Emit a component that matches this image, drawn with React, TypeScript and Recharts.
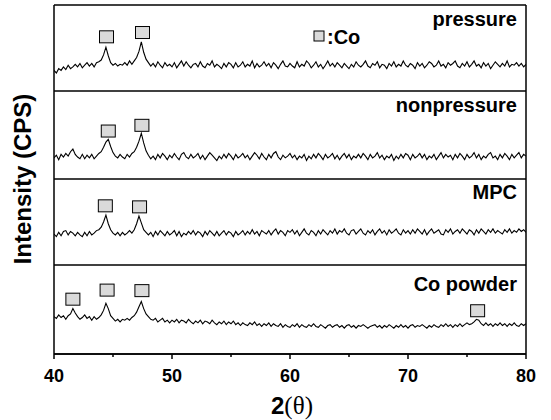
import React from 'react';
import { ComposedChart, Line, XAxis, YAxis, ReferenceDot, ReferenceLine } from 'recharts';

// scan grid: 40-80 deg, 0.2 deg step
const scanStart = 40;
const scanStep = 0.2;
const xTicks = [40, 45, 50, 55, 60, 65, 70, 75, 80];

// counts, local units 0-100 per panel
const pressureCounts = [
  24, 21, 26, 24, 28, 25, 30, 26, 28, 31,
  28, 32, 27, 30, 33, 29, 32, 28, 33, 34,
  36, 42, 51, 41, 33, 30, 32, 29, 31, 30,
  33, 30, 35, 31, 35, 39, 46, 57, 45, 37,
  33, 29, 32, 28, 34, 30, 27, 33, 29, 31,
  28, 33, 27, 31, 35, 29, 34, 30, 27, 31,
  32, 28, 34, 29, 27, 32, 30, 35, 28, 31,
  29, 26, 32, 28, 33, 31, 27, 33, 28, 30,
  34, 28, 31, 29, 35, 27, 32, 28, 30, 34,
  29, 32, 27, 33, 30, 26, 31, 35, 29, 28,
  32, 29, 27, 34, 28, 31, 29, 35, 32, 27,
  30, 34, 28, 31, 26, 30, 35, 29, 32, 28,
  33, 30, 27, 32, 29, 26, 31, 28, 34, 30,
  28, 31, 35, 29, 27, 32, 30, 34, 27, 31,
  30, 26, 32, 29, 34, 28, 31, 29, 35, 30,
  28, 32, 30, 26, 33, 29, 32, 27, 30, 34,
  32, 28, 30, 35, 29, 31, 27, 33, 30, 32,
  35, 29, 27, 32, 29, 34, 28, 31, 35, 29,
  31, 27, 33, 29, 32, 26, 30, 34, 31, 28,
  32, 29, 35, 28, 31, 30, 33, 29, 32, 28, 31,
];

const nonpressureCounts = [
  24, 27, 22, 28, 25, 29, 26, 31, 34, 28,
  25, 23, 28, 23, 27, 24, 28, 23, 26, 29,
  31, 36, 42, 45, 37, 30, 26, 24, 28, 25,
  23, 28, 25, 29, 31, 36, 43, 52, 41, 32,
  27, 23, 26, 22, 28, 24, 29, 26, 22, 27,
  24, 29, 25, 22, 28, 30, 25, 23, 28, 24,
  26, 29, 23, 27, 22, 26, 30, 27, 24, 21,
  26, 23, 28, 24, 29, 26, 22, 28, 24, 26,
  29, 24, 27, 22, 26, 30, 27, 23, 29, 25,
  22, 28, 24, 29, 31, 25, 22, 27, 24, 26,
  29, 24, 27, 22, 26, 24, 28, 21, 26, 23,
  28, 24, 29, 26, 22, 28, 24, 26, 29, 23,
  27, 22, 26, 29, 24, 28, 22, 26, 24, 28,
  24, 29, 26, 22, 28, 24, 26, 30, 24, 27,
  22, 26, 24, 28, 21, 26, 23, 28, 24, 29,
  27, 22, 28, 24, 26, 29, 24, 28, 22, 26,
  24, 28, 22, 26, 30, 24, 28, 25, 27, 22,
  28, 24, 29, 26, 22, 28, 24, 26, 30, 24,
  28, 22, 26, 24, 28, 30, 24, 26, 22, 28,
  24, 29, 26, 22, 28, 24, 27, 30, 24, 28, 26,
];

const mpcCounts = [
  36, 33, 38, 34, 39, 40, 35, 39, 37, 34,
  38, 35, 33, 38, 34, 39, 35, 37, 40, 41,
  44, 50, 58, 48, 41, 37, 35, 38, 34, 38,
  35, 37, 40, 37, 41, 48, 57, 49, 41, 38,
  35, 38, 33, 39, 35, 40, 37, 34, 39, 35,
  37, 40, 34, 39, 33, 37, 35, 39, 36, 40,
  35, 39, 37, 33, 39, 35, 40, 37, 34, 39,
  34, 37, 40, 35, 39, 37, 33, 39, 35, 37,
  40, 35, 39, 36, 41, 36, 39, 34, 40, 38,
  36, 40, 35, 39, 42, 36, 40, 38, 34, 40,
  38, 41, 36, 40, 34, 38, 42, 37, 35, 40,
  38, 34, 40, 36, 41, 38, 35, 40, 37, 42,
  36, 40, 38, 42, 37, 35, 40, 41, 36, 39,
  42, 37, 35, 40, 37, 41, 35, 39, 42, 37,
  40, 35, 41, 37, 39, 42, 37, 35, 41, 37,
  40, 36, 41, 37, 42, 39, 36, 41, 35, 39,
  42, 37, 39, 41, 36, 35, 41, 38, 42, 36,
  39, 41, 37, 42, 39, 36, 41, 39, 35, 41,
  37, 42, 39, 36, 41, 38, 42, 37, 40, 38,
  36, 41, 38, 42, 37, 40, 38, 42, 39, 41, 38,
];

const coPowderCounts = [
  42, 40, 44, 41, 43, 39, 43, 45, 51, 46,
  42, 39, 41, 44, 40, 42, 38, 42, 39, 41,
  44, 49, 57, 51, 43, 40, 37, 39, 36, 39,
  38, 40, 38, 41, 43, 47, 53, 59, 51, 45,
  42, 39, 38, 40, 36, 38, 40, 36, 38, 35,
  38, 36, 39, 35, 38, 37, 35, 39, 36, 34,
  37, 35, 38, 34, 37, 36, 34, 38, 35, 33,
  36, 34, 37, 33, 36, 34, 37, 33, 35, 32,
  35, 33, 32, 35, 33, 36, 32, 34, 31, 34,
  32, 35, 31, 34, 32, 31, 34, 30, 33, 31,
  30, 33, 31, 34, 30, 33, 31, 30, 33, 31,
  34, 31, 30, 33, 31, 29, 32, 33, 30, 32,
  33, 30, 32, 29, 32, 33, 30, 32, 29, 32,
  31, 33, 31, 29, 31, 32, 33, 30, 32, 29,
  32, 30, 33, 31, 29, 32, 30, 33, 30, 32,
  29, 32, 33, 30, 32, 31, 33, 31, 29, 32,
  30, 33, 31, 30, 33, 31, 34, 31, 33, 30,
  33, 31, 34, 31, 33, 35, 33, 34, 36, 39,
  38, 34, 32, 35, 32, 34, 31, 34, 32, 35,
  32, 34, 31, 34, 32, 35, 32, 31, 34, 32, 34,
];

// Co peak markers (2theta, marker height in panel units)
const pressurePeaks = [{ x: 44.45, y: 63 }, { x: 47.5, y: 68 }];
const nonpressurePeaks = [{ x: 44.6, y: 54.5 }, { x: 47.45, y: 61 }];
const mpcPeaks = [{ x: 44.35, y: 68.8 }, { x: 47.25, y: 67.6 }];
const coPowderPeaks = [
  { x: 41.6, y: 61.6 }, { x: 44.5, y: 71.8 }, { x: 47.45, y: 71.2 }, { x: 75.9, y: 48.6 },
];

const panelNames = ['pressure', 'nonpressure', 'MPC', 'Co powder'];

const panels = [
  { name: panelNames[0], counts: pressureCounts, peaks: pressurePeaks, top: 5, bottom: 91, labelY: 26 },
  { name: panelNames[1], counts: nonpressureCounts, peaks: nonpressurePeaks, top: 91, bottom: 179, labelY: 112 },
  { name: panelNames[2], counts: mpcCounts, peaks: mpcPeaks, top: 179, bottom: 265, labelY: 199 },
  { name: panelNames[3], counts: coPowderCounts, peaks: coPowderPeaks, top: 265, bottom: 354, labelY: 291 },
];

const FONT = '"Liberation Sans", Arial, Helvetica, sans-serif';
const PAD = 4;
const AXIS_H = 66;

const CoSquare = (props: any) => {
  const { cx, cy } = props;
  if (cx == null || cy == null) return null;
  return <rect x={cx - 7} y={cy - 6} width={14} height={12} fill="#dadada" stroke="#000" strokeWidth={1} />;
};

const XTick = (props: any) => {
  const { x, y, payload } = props;
  const major = payload.value % 10 === 0;
  return (
    <g>
      <line x1={x} x2={x} y1={y} y2={y + (major ? 5 : 3)} stroke="#000" strokeWidth={1.5} />
      {major && (
        <text x={x} y={y + 28} textAnchor="middle" fontFamily={FONT} fontWeight="bold" fontSize={18} fill="#000">
          {payload.value}
        </text>
      )}
    </g>
  );
};

const Panel = ({ p, first, last }: any) => {
  const data = p.counts.map((v: number, i: number) => ({ t: +(scanStart + i * scanStep).toFixed(1), v }));
  const axisH = last ? AXIS_H : 0;
  const h = p.bottom - p.top + PAD * 2 + axisH;
  return (
    <div style={{ position: 'absolute', left: 0, top: p.top - PAD }}>
      <ComposedChart width={551} height={h} data={data} margin={{ top: PAD, right: 25, bottom: PAD, left: 54 }}>
        <XAxis
          dataKey="t"
          type="number"
          domain={[40, 80]}
          ticks={xTicks}
          interval={0}
          allowDataOverflow
          hide={!last}
          height={axisH}
          axisLine={{ stroke: '#000', strokeWidth: 1.5 }}
          tickLine={false}
          tickSize={0}
          tickMargin={0}
          tick={(tp: any) => <XTick {...tp} />}
        />
        <YAxis type="number" domain={[0, 100]} allowDataOverflow hide />
        <ReferenceLine x={40} stroke="#000" strokeWidth={1.5} />
        <ReferenceLine x={80} stroke="#000" strokeWidth={1.5} />
        <ReferenceLine y={0} stroke="#000" strokeWidth={1.5} />
        {first && <ReferenceLine y={100} stroke="#000" strokeWidth={1.5} />}
        <Line dataKey="v" stroke="#000" strokeWidth={1.1} dot={false} isAnimationActive={false} />
        {p.peaks.map((pk: any) => (
          <ReferenceDot key={pk.x} x={pk.x} y={pk.y} r={6} shape={CoSquare} />
        ))}
      </ComposedChart>
    </div>
  );
};

export default function App() {
  return (
    <div style={{ position: 'absolute', left: 0, top: 0, width: 551, height: 420, background: '#fff' }}>
      {panels.map((p, i) => (
        <Panel key={p.name} p={p} first={i === 0} last={i === panels.length - 1} />
      ))}
      <svg width={551} height={420} style={{ position: 'absolute', left: 0, top: 0, pointerEvents: 'none' }}>
        {panels.map((p) => (
          <text key={p.name} x={517} y={p.labelY} textAnchor="end" fontFamily={FONT} fontWeight="bold" fontSize={20} fill="#000">
            {p.name}
          </text>
        ))}
        <rect x={314} y={31} width={10} height={10} fill="#dadada" stroke="#000" strokeWidth={1} />
        <text x={327} y={44} fontFamily={FONT} fontWeight="bold" fontSize={20} fill="#000">:Co</text>
        <text transform="translate(31,179) rotate(-90)" textAnchor="middle" fontFamily={FONT} fontWeight="bold" fontSize={24} fill="#000">
          Intensity (CPS)
        </text>
        <text x={292} y={414} textAnchor="middle" fill="#000">
          <tspan fontFamily={FONT} fontWeight="bold" fontSize={24}>2</tspan>
          <tspan fontFamily='"Liberation Serif", "Times New Roman", serif' fontSize={25}>(θ)</tspan>
        </text>
      </svg>
    </div>
  );
}
